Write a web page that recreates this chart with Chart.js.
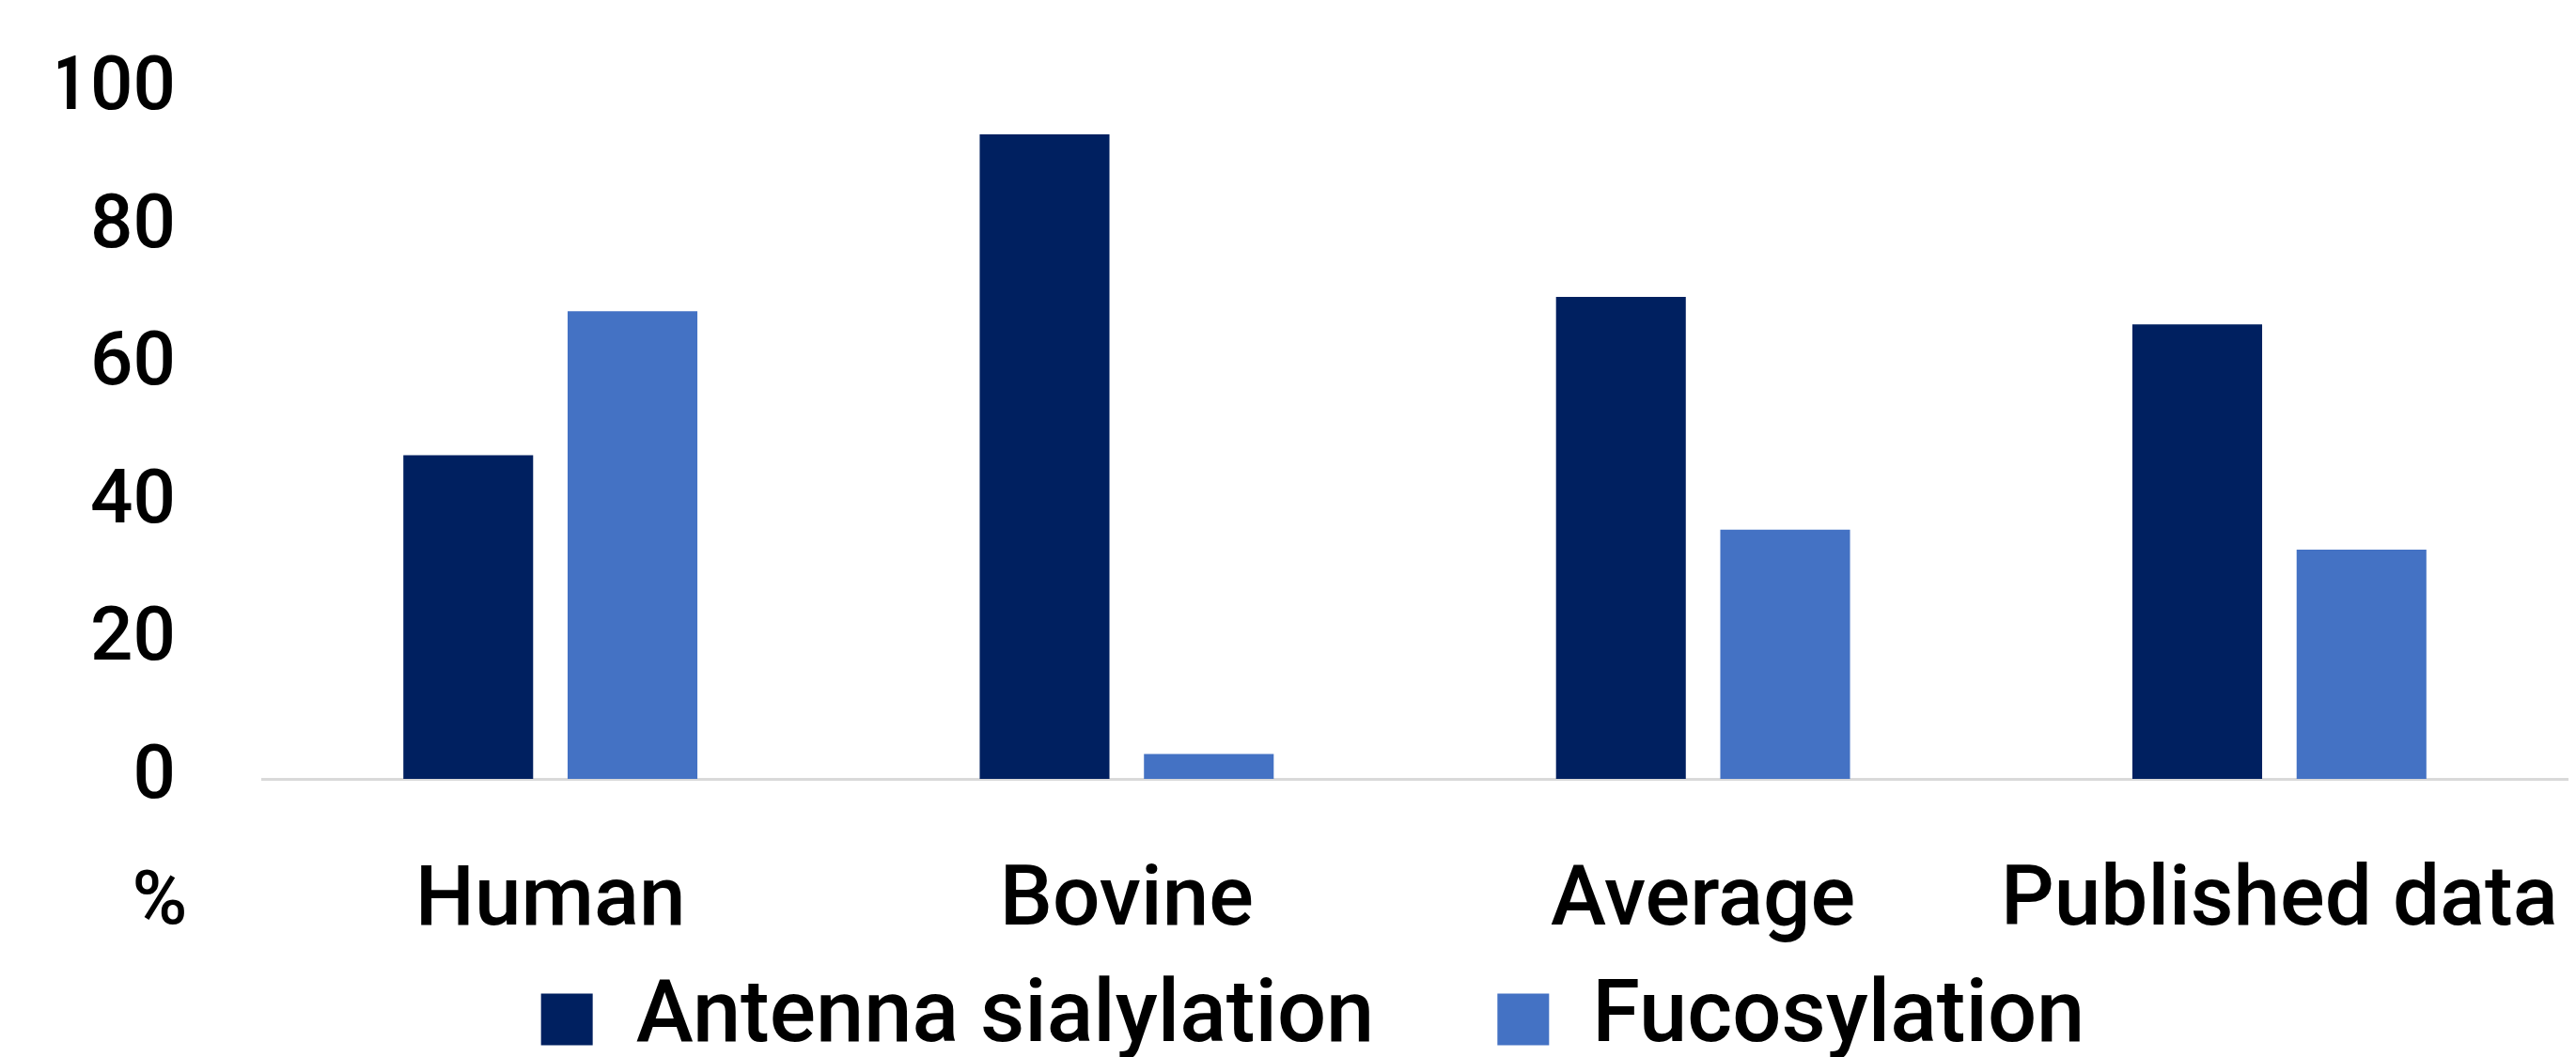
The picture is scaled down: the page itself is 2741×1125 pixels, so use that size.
<!DOCTYPE html>
<html>
<head>
<meta charset="utf-8">
<script src="https://cdn.jsdelivr.net/npm/chart.js@4"></script>
<style>
  html, body { margin: 0; padding: 0; background: #ffffff; }
  #wrap { width: 2741px; height: 1125px; }
</style>
</head>
<body>
<div id="wrap"><canvas id="myChart" width="2741" height="1125"></canvas></div>
<script>
var categories = ['Human', 'Bovine', 'Average', 'Published data'];
var antennaSialylation = [47.0, 93.6, 70.0, 66.0];
var fucosylation = [67.9, 3.6, 36.2, 33.3];
var yTicks = [0, 20, 40, 60, 80, 100];
var seriesNames = ['Antenna sialylation', 'Fucosylation'];
var seriesColors = ['#002060', '#4472C4'];

var fontName = 'Roboto, "DejaVu Sans", sans-serif';

// the "%" label that sits under the y ticks
var percentLabel = {
    id: 'percentLabel',
    afterDraw: function(chart) {
        var ctx = chart.ctx;
        var area = chart.chartArea;
        ctx.save();
        ctx.font = '500 80px ' + fontName;
        ctx.fillStyle = '#000000';
        ctx.textAlign = 'center';
        ctx.textBaseline = 'middle';
        ctx.fillText('%', area.left - 109, area.bottom + 134);
        ctx.restore();
    }
};

// legend padding is also the gap between items; pull the row back up
var legendLift = {
    id: 'legendLift',
    afterLayout: function(chart) {
        var leg = chart.legend;
        var shift = leg.options.labels.padding - 24;
        leg.top -= shift;
        leg.bottom -= shift;
    }
};

var config = {
    type: 'bar',
    data: {
        labels: categories,
        datasets: [{
            label: seriesNames[0],
            data: antennaSialylation,
            backgroundColor: seriesColors[0],
            categoryPercentage: 0.57,
            barPercentage: 0.79
        }, {
            label: seriesNames[1],
            data: fucosylation,
            backgroundColor: seriesColors[1],
            categoryPercentage: 0.57,
            barPercentage: 0.79
        }]
    },
    options: {
        responsive: false,
        animation: false,
        layout: {
            padding: { left: 62, right: 9, top: 96, bottom: -123 }
        },
        scales: {
            x: {
                grid: { display: false, drawTicks: false },
                border: { display: true, color: '#d9d9d9', width: 3 },
                afterFit: function(scale) {
                    scale.height = 186;
                    scale.paddingLeft = 0;
                    scale.paddingRight = 0;
                },
                ticks: {
                    color: '#000000',
                    padding: 79,
                    maxRotation: 0,
                    autoSkip: false,
                    font: { family: fontName, size: 89, weight: 500 }
                }
            },
            y: {
                min: 0,
                max: 100,
                grid: { display: false, drawTicks: false },
                border: { display: false },
                afterBuildTicks: function(scale) {
                    scale.ticks = yTicks.map(function(v) { return { value: v }; });
                },
                afterFit: function(scale) {
                    scale.width = 217;
                    scale.paddingTop = 0;
                    scale.paddingBottom = 0;
                },
                ticks: {
                    color: '#000000',
                    padding: 92,
                    font: { family: fontName, size: 80, weight: 500 }
                }
            }
        },
        plugins: {
            legend: {
                position: 'bottom',
                labels: {
                    color: '#000000',
                    boxWidth: 55,
                    boxHeight: 55,
                    padding: 131,
                    font: { family: fontName, size: 92, weight: 500 }
                }
            },
            tooltip: { enabled: false }
        }
    },
    plugins: [percentLabel, legendLift]
};

var ctx = document.getElementById('myChart').getContext('2d');
var myChart = new Chart(ctx, config);
</script>
</body>
</html>
